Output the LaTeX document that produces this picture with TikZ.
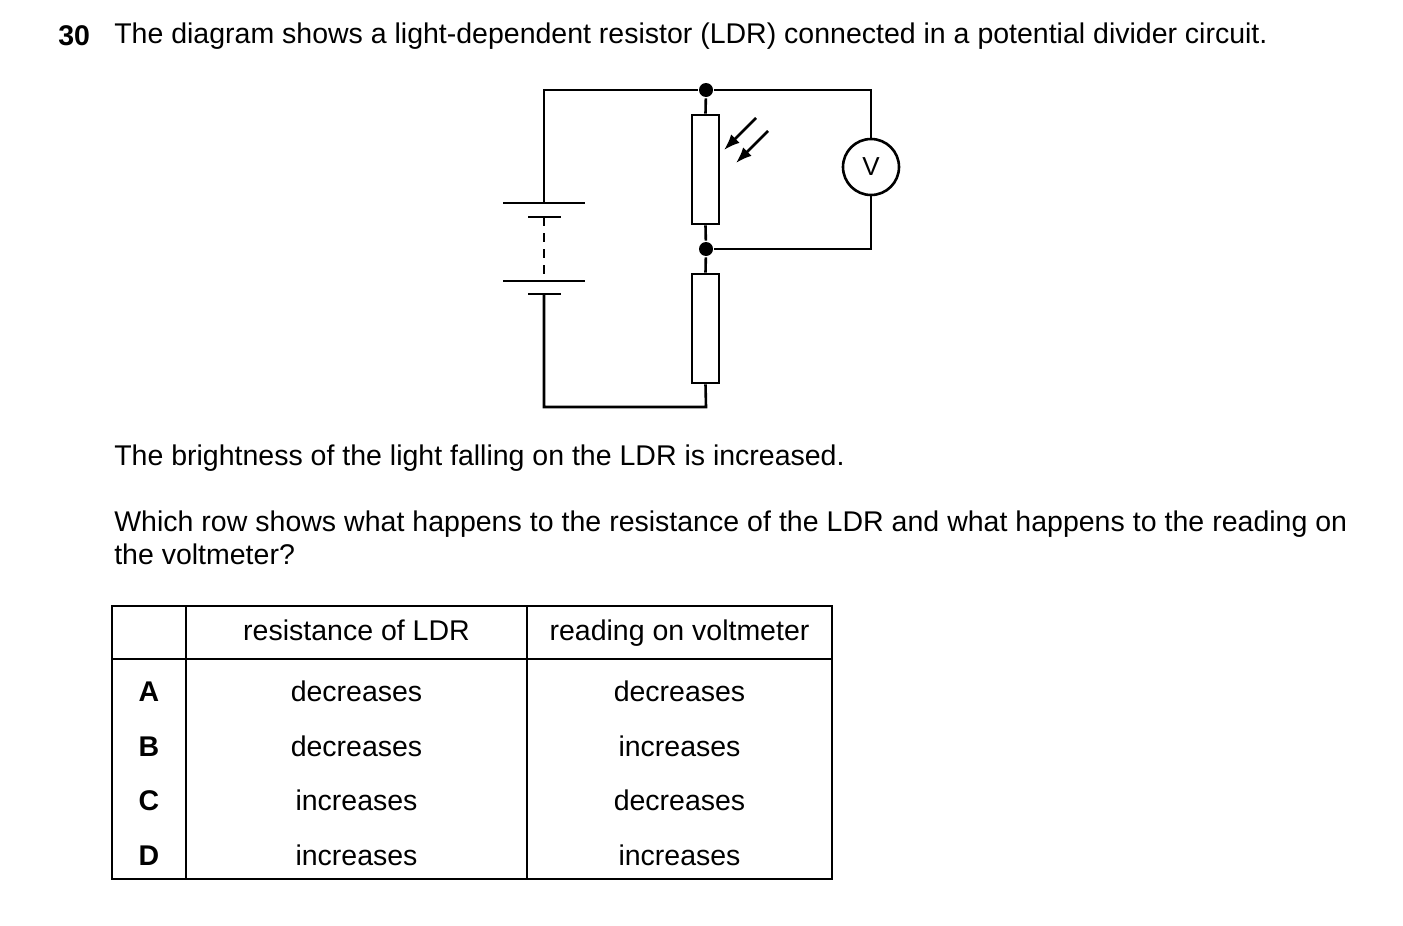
\documentclass[tikz,border=0pt]{standalone}
\usepackage{fontspec}
\setmainfont{Liberation Sans}
\usetikzlibrary{arrows.meta}
\begin{document}
\begin{tikzpicture}[x=1pt,y=-1pt,line width=2.6pt,
    txt/.style={inner sep=0pt, anchor=west, font=\fontsize{28.5}{33}\selectfont},
    cell/.style={inner sep=0pt, text height=20pt, text depth=6pt, font=\fontsize{28.5}{33}\selectfont},
    resist/.style={draw, fill=white, minimum width=27pt, minimum height=109pt, inner sep=0pt},
    dot/.style={circle, fill=black, inner sep=0pt, minimum size=14pt}]
\useasboundingbox (0,0) rectangle (1403,926);
%% Texts
	\node[txt, font=\fontsize{28.5}{33}\selectfont\bfseries] (num) at (57,36) {30};
	\node[txt] (q1) at (113,36) {The diagram shows a light-dependent resistor (LDR) connected in a potential divider circuit.};
	\node[txt] (q2) at (113,458) {The brightness of the light falling on the LDR is increased.};
	\node[txt, text width=1233pt, align=justify, anchor=north west] (q3) at (113,510) {Which row shows what happens to the resistance of the LDR and what happens to the reading on the voltmeter?};
%% Circuit
	\node[resist] (ldr) at (705.5,169.5) {};
	\node[resist] (fixed) at (705.5,328.5) {};
	\node[dot] (jtop) at (706,90) {};
	\node[dot] (jmid) at (706,249) {};
	\node[draw, circle, minimum size=56pt, inner sep=0pt, font=\fontsize{26}{30}\selectfont] (volt) at (871,167) {V};
	\coordinate (tl) at (544,90);
	\coordinate (tr) at (871,90);
	\coordinate (mr) at (871,249);
	\coordinate (bl) at (544,407);
	\coordinate (br) at (706,407);
	\coordinate (cellA) at (544,203);
	\coordinate (cellB) at (544,294);
	\draw (cellA) -- (tl) -- (jtop) -- (tr) -- (volt.north);
	\draw (volt.south) -- (mr) -- (jmid);
	\draw (jtop) -- (ldr.north);
	\draw (ldr.south) -- (jmid) -- (fixed.north);
	\draw (fixed.south) -- (br) -- (bl) -- (cellB);
%% Battery
	\draw (503,203) -- (585,203);
	\draw (528,217) -- (561,217);
	\draw (503,281) -- (585,281);
	\draw (528,294) -- (561,294);
	\draw[dashed, dash pattern=on 9pt off 7pt] (544,217) -- (544,281);
%% Light arrows
	\draw[-{Latex[length=16pt,width=12pt]}] (756,118) -- (724,150);
	\draw[-{Latex[length=16pt,width=12pt]}] (768,131) -- (736,163);
%% Table
	\draw[line width=1.4pt] (112,606) rectangle (832,879);
	\draw[line width=1.4pt] (112,659) -- (832,659);
	\draw[line width=1.4pt] (186,606) -- (186,879);
	\draw[line width=1.4pt] (527,606) -- (527,879);
	\node[cell] (h1) at (356.5,633) {resistance of LDR};
	\node[cell] (h2) at (679.5,633) {reading on voltmeter};
	\foreach \lbl/\res/\rd/\y in {A/decreases/decreases/694, B/decreases/increases/749, C/increases/decreases/803, D/increases/increases/858}{
		\node[cell, font=\fontsize{28.5}{33}\selectfont\bfseries] (row\lbl) at (149,\y) {\lbl};
		\node[cell] (res\lbl) at (356.5,\y) {\res};
		\node[cell] (rd\lbl) at (679.5,\y) {\rd};
	}
\end{tikzpicture}
\end{document}
